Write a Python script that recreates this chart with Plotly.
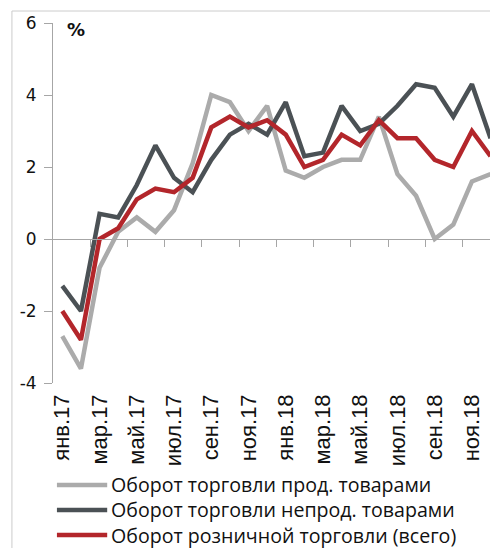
import plotly.graph_objects as go

months = ["янв.17", "фев.17", "мар.17", "апр.17", "май.17", "июн.17", "июл.17", "авг.17",
          "сен.17", "окт.17", "ноя.17", "дек.17", "янв.18", "фев.18", "мар.18", "апр.18",
          "май.18", "июн.18", "июл.18", "авг.18", "сен.18", "окт.18", "ноя.18", "дек.18"]

food = [-2.7, -3.6, -0.8, 0.2, 0.6, 0.2, 0.8, 2.1, 4.0, 3.8, 3.0, 3.7,
        1.9, 1.7, 2.0, 2.2, 2.2, 3.4, 1.8, 1.2, 0.0, 0.4, 1.6, 1.8]
nonfood = [-1.3, -2.0, 0.7, 0.6, 1.5, 2.6, 1.7, 1.3, 2.2, 2.9, 3.2, 2.9,
           3.8, 2.3, 2.4, 3.7, 3.0, 3.2, 3.7, 4.3, 4.2, 3.4, 4.3, 2.8]
total = [-2.0, -2.8, 0.0, 0.3, 1.1, 1.4, 1.3, 1.7, 3.1, 3.4, 3.1, 3.3,
         2.9, 2.0, 2.2, 2.9, 2.6, 3.3, 2.8, 2.8, 2.2, 2.0, 3.0, 2.3]

names = ["Оборот торговли прод. товарами",
         "Оборот торговли непрод. товарами",
         "Оборот розничной торговли (всего)"]
colors = ["#ababab", "#4b5155", "#b3262b"]

y_ticks = [-4, -2, 0, 2, 4, 6]
y_tick_text = ["-4", "-2", "0", "2", "4", "6"]

idx = list(range(len(months)))
label_idx = idx[::2]
label_txt = months[::2]
tick_between = [i + 1.5 for i in idx[::2][:-1]]

fig = go.Figure()
for series, name, col in zip([food, nonfood, total], names, colors):
    fig.add_trace(go.Scatter(x=idx, y=series, name=name, mode="lines",
                             line=dict(color=col, width=4.5), showlegend=False))
# carrier for the label axis
fig.add_trace(go.Scatter(x=[0], y=[None], xaxis="x2", showlegend=False,
                         hoverinfo="skip", mode="lines"))

# legend drawn as sample lines + one multi-line text (paper coordinates)
leg_y = [-0.2833, -0.3528, -0.4222]
shapes = [
    dict(type="line", xref="paper", yref="paper", x0=-0.094, x1=1.02,
         y0=1.0333, y1=1.0333, line=dict(color="#cccccc", width=1)),
    dict(type="line", xref="paper", yref="paper", x0=-0.094, x1=-0.094,
         y0=1.0333, y1=-0.47, line=dict(color="#cccccc", width=1)),
]
for ly, col in zip(leg_y, colors):
    shapes.append(dict(type="line", xref="paper", yref="paper", x0=0.009, x1=0.124,
                       y0=ly, y1=ly, line=dict(color=col, width=4.5)))
annotations = [
    dict(text="<b>%</b>", xref="paper", yref="paper", x=0.053, y=0.983,
         xanchor="center", yanchor="middle",
         showarrow=False, font=dict(family="DejaVu Sans", size=18, color="#111111")),
    dict(text="<br>".join(names), xref="paper", yref="paper", x=0.128, y=leg_y[1],
         xanchor="left", yanchor="middle", align="left", showarrow=False,
         font=dict(family="Open Sans", size=19.6, color="#111111")),
]

xr = [-0.5, 22.97]
axcol = "#a6a6a6"
fig.update_layout(
    width=490, height=548, autosize=False,
    margin=dict(l=53, r=0, t=23, b=165, autoexpand=False),
    paper_bgcolor="white", plot_bgcolor="white",
    showlegend=False,
    xaxis=dict(range=xr, anchor="free", position=0.4, showline=True, linecolor=axcol,
               linewidth=1, ticks="outside", ticklen=7, tickcolor=axcol,
               tickvals=tick_between, showticklabels=False, showgrid=False,
               zeroline=False),
    xaxis2=dict(range=xr, overlaying="x", anchor="y", side="bottom",
                tickvals=label_idx, ticktext=label_txt, tickangle=-90, ticks="",
                showline=False, showgrid=False, zeroline=False, ticklabelstandoff=6,
                tickfont=dict(family="Liberation Sans", size=22, color="#111111")),
    yaxis=dict(range=[-4, 6], tickvals=y_ticks, ticktext=y_tick_text, showline=True,
               linecolor=axcol, linewidth=1, ticks="outside", ticklen=8,
               tickcolor=axcol, showgrid=False, zeroline=False, ticklabelstandoff=4,
               tickfont=dict(family="DejaVu Sans", size=17, color="#111111")),
    annotations=annotations,
    shapes=shapes,
)

# remove the page's default body margin so the figure fills the window exactly
fig.write_html("out.html", config={"displayModeBar": False},
               post_script="document.body.style.margin='0';"
                           "document.body.style.overflow='hidden';")
